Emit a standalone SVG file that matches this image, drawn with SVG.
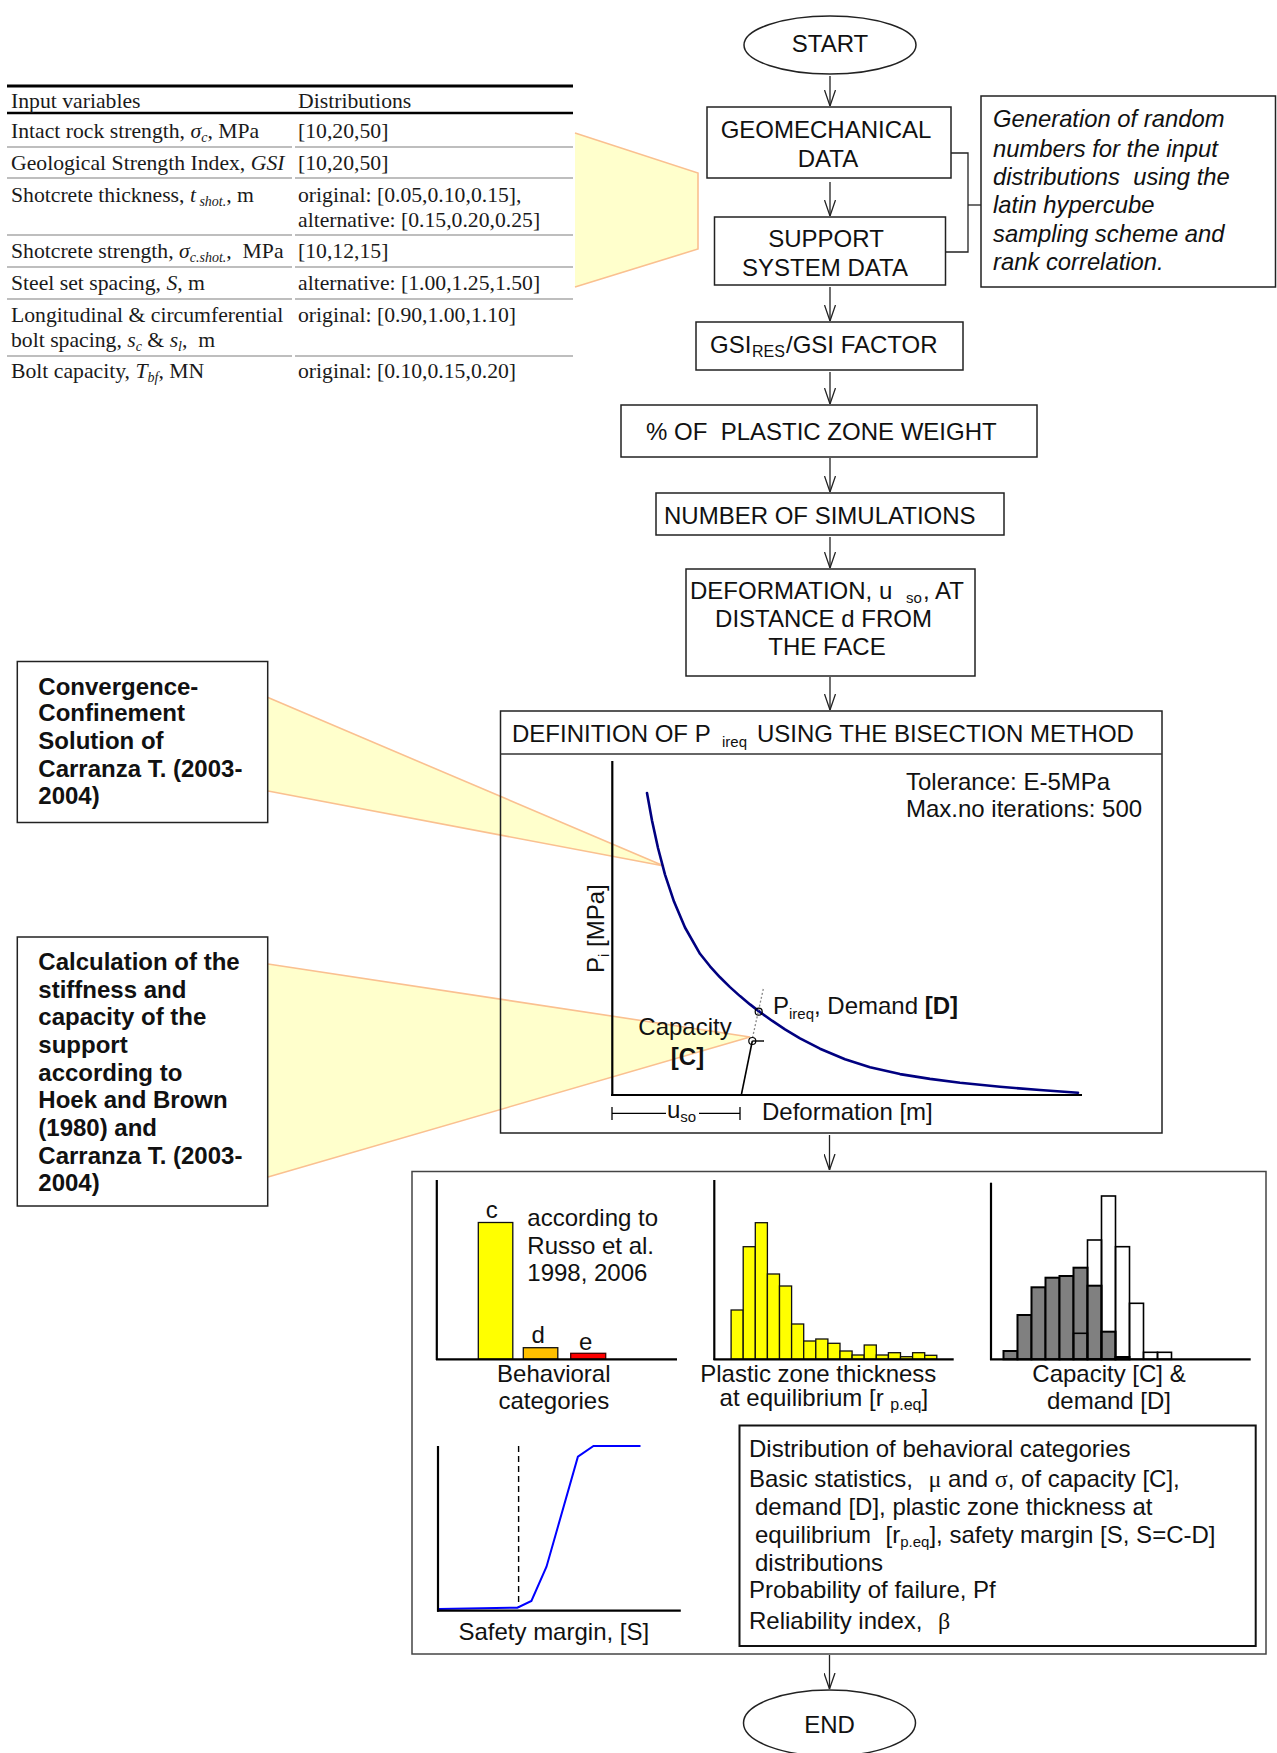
<svg xmlns="http://www.w3.org/2000/svg" width="1277" height="1753" viewBox="0 0 1277 1753">
<defs>
<style>
.t{font-family:"Liberation Sans",Arial,sans-serif;font-size:24px;fill:#111}
.ti{font-family:"Liberation Sans",Arial,sans-serif;font-size:23.8px;font-style:italic;fill:#111}
.tb{font-family:"Liberation Sans",Arial,sans-serif;font-size:24px;font-weight:bold;fill:#111}
.tr{font-family:"Liberation Serif","Times New Roman",serif;font-size:21.7px;fill:#1a1a1a}
.sym{font-family:"Liberation Serif","Times New Roman",serif}
.box{fill:none;stroke:#222;stroke-width:1.5}
.ax{fill:none;stroke:#000;stroke-width:2.2}
.rl{stroke:#a8a8a8;stroke-width:1.5}
.co{fill:#FFFFCC;stroke:none}
.col{fill:none;stroke:#FAC090;stroke-width:1.6}
.yb{fill:#FFFF00;stroke:#111;stroke-width:1.3}
.gb{fill:#808080;stroke:#000;stroke-width:2}
.wb{fill:none;stroke:#000;stroke-width:1.6}
.con{fill:none;stroke:#222;stroke-width:1.3}
</style>
<marker id="ah" viewBox="0 0 16 12" refX="16" refY="6" markerWidth="16" markerHeight="12" markerUnits="userSpaceOnUse" orient="auto">
<path d="M0,0.5 L16,6 L0,11.5" fill="none" stroke="#222" stroke-width="1.3"/>
</marker>
</defs>
<rect width="1277" height="1753" fill="#fff"/>

<g id="callouts">
<polygon class="co" points="575,133 698,173 698,249 575,287"/>
<polyline class="col" points="575,133 698,173 698,249 575,287"/>
<polygon class="co" points="268,697.5 664,866 268,791"/>
<polyline class="col" points="268,697.5 664,866 268,791"/>
<polygon class="co" points="268,964 750,1037 268,1177"/>
<polyline class="col" points="268,964 750,1037 268,1177"/>
</g>

<g id="table">
<line x1="7" y1="86" x2="573" y2="86" stroke="#000" stroke-width="3"/>
<line x1="7" y1="113" x2="573" y2="113" stroke="#000" stroke-width="2.6"/>
<g>
<line class="rl" x1="7" y1="147" x2="292" y2="147"/><line class="rl" x1="295" y1="147" x2="573" y2="147"/>
<line class="rl" x1="7" y1="178" x2="292" y2="178"/><line class="rl" x1="295" y1="178" x2="573" y2="178"/>
<line class="rl" x1="7" y1="235" x2="292" y2="235"/><line class="rl" x1="295" y1="235" x2="573" y2="235"/>
<line class="rl" x1="7" y1="267" x2="292" y2="267"/><line class="rl" x1="295" y1="267" x2="573" y2="267"/>
<line class="rl" x1="7" y1="299" x2="292" y2="299"/><line class="rl" x1="295" y1="299" x2="573" y2="299"/>
<line class="rl" x1="7" y1="356" x2="292" y2="356"/><line class="rl" x1="295" y1="356" x2="573" y2="356"/>
</g>
<text class="tr" x="11" y="108">Input variables</text>
<text class="tr" x="298" y="108">Distributions</text>
<text class="tr" x="11" y="138">Intact rock strength, <tspan font-style="italic">σ</tspan><tspan font-style="italic" font-size="14" dy="4">c</tspan><tspan dy="-4">, MPa</tspan></text>
<text class="tr" x="298" y="138">[10,20,50]</text>
<text class="tr" x="11" y="170">Geological Strength Index, <tspan font-style="italic">GSI</tspan></text>
<text class="tr" x="298" y="170">[10,20,50]</text>
<text class="tr" x="11" y="202">Shotcrete thickness, <tspan font-style="italic">t</tspan><tspan font-style="italic" font-size="14" dy="4"> shot.</tspan><tspan dy="-4">, m</tspan></text>
<text class="tr" x="298" y="202">original: [0.05,0.10,0.15],</text>
<text class="tr" x="298" y="227">alternative: [0.15,0.20,0.25]</text>
<text class="tr" x="11" y="258" xml:space="preserve">Shotcrete strength, <tspan font-style="italic">σ</tspan><tspan font-style="italic" font-size="14" dy="4">c.shot.</tspan><tspan dy="-4">,  MPa</tspan></text>
<text class="tr" x="298" y="258">[10,12,15]</text>
<text class="tr" x="11" y="290">Steel set spacing, <tspan font-style="italic">S</tspan>, m</text>
<text class="tr" x="298" y="290">alternative: [1.00,1.25,1.50]</text>
<text class="tr" x="11" y="322">Longitudinal &amp; circumferential</text>
<text class="tr" x="11" y="347" xml:space="preserve">bolt spacing, <tspan font-style="italic">s</tspan><tspan font-style="italic" font-size="14" dy="4">c</tspan><tspan dy="-4"> &amp; </tspan><tspan font-style="italic">s</tspan><tspan font-style="italic" font-size="14" dy="4">l</tspan><tspan dy="-4">,  m</tspan></text>
<text class="tr" x="298" y="322">original: [0.90,1.00,1.10]</text>
<text class="tr" x="11" y="378">Bolt capacity, <tspan font-style="italic">T</tspan><tspan font-style="italic" font-size="14" dy="4">bf</tspan><tspan dy="-4">, MN</tspan></text>
<text class="tr" x="298" y="378">original: [0.10,0.15,0.20]</text>
</g>

<g id="connectors">
<line class="con" x1="830" y1="76" x2="830" y2="106" marker-end="url(#ah)"/>
<line class="con" x1="830" y1="182" x2="830" y2="216" marker-end="url(#ah)"/>
<line class="con" x1="830" y1="287" x2="830" y2="321" marker-end="url(#ah)"/>
<line class="con" x1="830" y1="372" x2="830" y2="404" marker-end="url(#ah)"/>
<line class="con" x1="830" y1="458" x2="830" y2="492" marker-end="url(#ah)"/>
<line class="con" x1="830" y1="537" x2="830" y2="568" marker-end="url(#ah)"/>
<line class="con" x1="830" y1="677" x2="830" y2="710" marker-end="url(#ah)"/>
<line class="con" x1="829.5" y1="1135" x2="829.5" y2="1170" marker-end="url(#ah)"/>
<line class="con" x1="829.5" y1="1655" x2="829.5" y2="1689" marker-end="url(#ah)"/>
<polyline class="con" points="951,153 968,153 968,252 945.5,252"/>
<line class="con" x1="968" y1="205" x2="981" y2="205"/>
</g>

<g id="start">
<ellipse cx="830" cy="45" rx="86" ry="29" class="box"/>
<text class="t" x="830" y="51.5" text-anchor="middle">START</text>
</g>
<g id="geomech">
<rect x="707" y="107" width="244" height="71" class="box"/>
<text class="t" x="826" y="138" text-anchor="middle">GEOMECHANICAL</text>
<text class="t" x="828" y="167" text-anchor="middle">DATA</text>
</g>
<g id="support">
<rect x="714.5" y="217" width="231" height="68" class="box"/>
<text class="t" x="826" y="247" text-anchor="middle">SUPPORT</text>
<text class="t" x="825" y="276" text-anchor="middle">SYSTEM DATA</text>
</g>
<g id="note">
<rect x="981" y="96" width="294.5" height="191" class="box"/>
<text class="ti" x="993" y="127">Generation of random</text>
<text class="ti" x="993" y="157">numbers for the input</text>
<text class="ti" x="993" y="185" xml:space="preserve">distributions  using the</text>
<text class="ti" x="993" y="213">latin hypercube</text>
<text class="ti" x="993" y="242">sampling scheme and</text>
<text class="ti" x="993" y="270">rank correlation.</text>
</g>
<g id="gsi">
<rect x="696" y="322" width="267" height="48" class="box"/>
<text class="t" x="710" y="353">GSI<tspan x="752" dy="4" font-size="16">RES</tspan><tspan x="786" dy="-4">/GSI FACTOR</tspan></text>
</g>
<g id="plastic">
<rect x="621" y="405" width="416" height="52" class="box"/>
<text class="t" x="646" y="440" xml:space="preserve">% OF  PLASTIC ZONE WEIGHT</text>
</g>
<g id="nsim">
<rect x="656" y="493" width="348" height="42" class="box"/>
<text class="t" x="664" y="524">NUMBER OF SIMULATIONS</text>
</g>
<g id="deform">
<rect x="686" y="569" width="289" height="107" class="box"/>
<text class="t" x="690" y="599">DEFORMATION, u<tspan x="906" dy="4" font-size="15">so</tspan><tspan x="923" dy="-4">, AT</tspan></text>
<text class="t" x="823.5" y="627" text-anchor="middle">DISTANCE d FROM</text>
<text class="t" x="827" y="655" text-anchor="middle">THE FACE</text>
</g>

<g id="bisection">
<rect x="500.5" y="711" width="661.5" height="422" class="box"/>
<line x1="500.5" y1="754" x2="1162" y2="754" stroke="#333" stroke-width="1.5"/>
<text class="t" x="512" y="742">DEFINITION OF P<tspan x="722" dy="5" font-size="15">ireq</tspan><tspan x="757" dy="-5">USING THE BISECTION METHOD</tspan></text>
<text class="t" x="906" y="790">Tolerance: E-5MPa</text>
<text class="t" x="906" y="817">Max.no iterations: 500</text>
<line class="ax" x1="612.3" y1="761" x2="612.3" y2="1096"/>
<line class="ax" x1="611" y1="1095" x2="1082" y2="1095"/>
<text class="t" transform="translate(604,973) rotate(-90)">P<tspan dy="5" font-size="15">i</tspan><tspan dy="-5"> [MPa]</tspan></text>
<polyline points="647,793 652,820.5 658,848 665,874.6 674,901.6 685,927.5 700,953.8 710,966.3 720,977.3 730,987.1 740,996.1 750,1004.4 760,1012.1 772,1020.7 785,1029.3 800,1038.3 820,1048.7 845,1059.2 870,1067.2 900,1074.1 930,1078.9 960,1082.8 1000,1086.8 1040,1090 1078,1092.7" fill="none" stroke="#000080" stroke-width="2.6" stroke-linejoin="round" stroke-linecap="round"/>
<line x1="763.3" y1="989" x2="752" y2="1040" stroke="#888" stroke-width="1.3" stroke-dasharray="2,2"/>
<line x1="741.3" y1="1095" x2="752.3" y2="1041" stroke="#000" stroke-width="1.6"/>
<line x1="752.3" y1="1041" x2="764" y2="1041" stroke="#000" stroke-width="1.4"/>
<circle cx="758.7" cy="1011.7" r="3.5" fill="none" stroke="#000" stroke-width="1.2"/>
<circle cx="752.3" cy="1041" r="3.5" fill="none" stroke="#000" stroke-width="1.2"/>
<text class="t" x="773" y="1014">P<tspan x="789" dy="5" font-size="15">ireq</tspan><tspan dy="-5">, Demand </tspan><tspan font-weight="bold">[D]</tspan></text>
<text class="t" x="685" y="1035" text-anchor="middle">Capacity</text>
<text class="t" x="687.5" y="1065" text-anchor="middle" font-weight="bold">[C]</text>
<line x1="612" y1="1113.3" x2="666" y2="1113.3" stroke="#000" stroke-width="1.3"/>
<line x1="699" y1="1113.3" x2="740" y2="1113.3" stroke="#000" stroke-width="1.3"/>
<line x1="612" y1="1107" x2="612" y2="1120" stroke="#000" stroke-width="1.3"/>
<line x1="740" y1="1107" x2="740" y2="1120" stroke="#000" stroke-width="1.3"/>
<text class="t" x="667" y="1118">u<tspan dy="4" font-size="15">so</tspan></text>
<text class="t" x="762" y="1120">Deformation [m]</text>
</g>

<g id="ccs">
<rect x="17.3" y="661.5" width="250.4" height="161" class="box"/>
<text class="tb" x="38.3" y="694.6">Convergence-</text>
<text class="tb" x="38.3" y="721.4">Confinement</text>
<text class="tb" x="38.3" y="749">Solution of</text>
<text class="tb" x="38.3" y="776.8">Carranza T. (2003-</text>
<text class="tb" x="38.3" y="804">2004)</text>
</g>
<g id="calc">
<rect x="17.3" y="937" width="250.4" height="269" class="box"/>
<text class="tb" x="38.3" y="969.6">Calculation of the</text>
<text class="tb" x="38.3" y="997.5">stiffness and</text>
<text class="tb" x="38.3" y="1025.3">capacity of the</text>
<text class="tb" x="38.3" y="1053">support</text>
<text class="tb" x="38.3" y="1080.6">according to</text>
<text class="tb" x="38.3" y="1108.3">Hoek and Brown</text>
<text class="tb" x="38.3" y="1136">(1980) and</text>
<text class="tb" x="38.3" y="1163.6">Carranza T. (2003-</text>
<text class="tb" x="38.3" y="1191.3">2004)</text>
</g>

<g id="results">
<rect x="412" y="1171.5" width="854" height="482.5" fill="none" stroke="#444" stroke-width="1.5"/>
<g id="chart-behavioral">
<rect x="478.3" y="1222.5" width="34.5" height="136.8" class="yb"/>
<rect x="523.3" y="1347.7" width="34.5" height="11.6" fill="#FFC000" stroke="#111" stroke-width="1.3"/>
<rect x="570.7" y="1353.3" width="35" height="6" fill="#FF0000" stroke="#400" stroke-width="1.3"/>
<line class="ax" x1="436.8" y1="1180" x2="436.8" y2="1360"/>
<line class="ax" x1="436" y1="1359.3" x2="677" y2="1359.3"/>
<text class="t" x="491.7" y="1218.3" text-anchor="middle" font-size="27">c</text>
<text class="t" x="538.3" y="1343.3" text-anchor="middle" font-size="27">d</text>
<text class="t" x="585.7" y="1350" text-anchor="middle" font-size="27">e</text>
<text class="t" x="527.3" y="1226">according to</text>
<text class="t" x="527.3" y="1253.5">Russo et al.</text>
<text class="t" x="527.3" y="1281">1998, 2006</text>
<text class="t" x="553.8" y="1381.7" text-anchor="middle">Behavioral</text>
<text class="t" x="553.8" y="1409.3" text-anchor="middle">categories</text>
</g>
<g id="chart-plastic">
<rect class="yb" x="731.1" y="1310" width="12.1" height="49.3"/>
<rect class="yb" x="743.2" y="1246.7" width="12.1" height="112.6"/>
<rect class="yb" x="755.3" y="1222.7" width="12.1" height="136.6"/>
<rect class="yb" x="767.4" y="1274" width="12.1" height="85.3"/>
<rect class="yb" x="779.5" y="1286" width="12.1" height="73.3"/>
<rect class="yb" x="791.6" y="1324" width="12.1" height="35.3"/>
<rect class="yb" x="803.7" y="1341" width="12.1" height="18.3"/>
<rect class="yb" x="815.8" y="1339" width="12.1" height="20.3"/>
<rect class="yb" x="827.9" y="1343.3" width="12.1" height="16"/>
<rect class="yb" x="840" y="1351" width="12.1" height="8.3"/>
<rect class="yb" x="852.1" y="1355" width="12.1" height="4.3"/>
<rect class="yb" x="864.2" y="1345" width="12.1" height="14.3"/>
<rect class="yb" x="876.3" y="1355" width="12.1" height="4.3"/>
<rect class="yb" x="888.4" y="1352.7" width="12.1" height="6.6"/>
<rect class="yb" x="900.5" y="1356.7" width="12.1" height="2.6"/>
<rect class="yb" x="912.6" y="1352.7" width="12.1" height="6.6"/>
<rect class="yb" x="924.7" y="1355.3" width="12.1" height="4"/>
<line class="ax" x1="714.3" y1="1180" x2="714.3" y2="1360"/>
<line class="ax" x1="713.5" y1="1359.3" x2="953.7" y2="1359.3"/>
<text class="t" x="818.3" y="1381.7" text-anchor="middle">Plastic zone thickness</text>
<text class="t" x="719.6" y="1406" xml:space="preserve">at equilibrium [r <tspan dy="4" font-size="16">p.eq</tspan><tspan dy="-4">]</tspan></text>
</g>
<g id="chart-capdem">
<rect class="gb" x="1003.5" y="1351" width="14" height="8.3"/>
<rect class="gb" x="1017.5" y="1315" width="14" height="44.3"/>
<rect class="gb" x="1031.5" y="1287.3" width="14" height="72"/>
<rect class="gb" x="1045.5" y="1277.7" width="14" height="81.6"/>
<rect class="gb" x="1059.5" y="1276" width="14" height="83.3"/>
<rect class="gb" x="1073.5" y="1267.7" width="14" height="91.6"/>
<rect class="gb" x="1087.5" y="1285.7" width="14" height="73.6"/>
<rect class="gb" x="1101.5" y="1331.7" width="14" height="27.6"/>
<rect class="gb" x="1115.5" y="1357" width="14" height="2.3"/>
<rect class="wb" x="1073.5" y="1333.3" width="14" height="26"/>
<rect class="wb" x="1087.5" y="1240" width="14" height="119.3"/>
<rect class="wb" x="1101.5" y="1196" width="14" height="163.3"/>
<rect class="wb" x="1115.5" y="1246.7" width="14" height="112.6"/>
<rect class="wb" x="1129.5" y="1303.3" width="14" height="56"/>
<rect class="wb" x="1143.5" y="1352.3" width="14" height="7"/>
<rect class="wb" x="1157.5" y="1352.3" width="14" height="7"/>
<line class="ax" x1="991" y1="1182.7" x2="991" y2="1360"/>
<line class="ax" x1="990" y1="1359.3" x2="1250.7" y2="1359.3"/>
<text class="t" x="1109" y="1381.7" text-anchor="middle">Capacity [C] &amp;</text>
<text class="t" x="1109" y="1409.3" text-anchor="middle">demand [D]</text>
</g>
<g id="chart-safety">
<line x1="518.6" y1="1446" x2="518.6" y2="1608" stroke="#000" stroke-width="1.4" stroke-dasharray="6,4"/>
<polyline points="439,1609 517.4,1607.7 531.4,1601 546.5,1566.7 577.9,1456.7 593.5,1446 640.5,1446" fill="none" stroke="#0000FF" stroke-width="2"/>
<line class="ax" x1="438" y1="1446" x2="438" y2="1611.7"/>
<line class="ax" x1="437" y1="1610.7" x2="680.8" y2="1610.7"/>
<text class="t" x="553.8" y="1640" text-anchor="middle">Safety margin, [S]</text>
</g>
<g id="summary">
<rect x="739.5" y="1425.5" width="516.2" height="220.5" fill="none" stroke="#111" stroke-width="2"/>
<text class="t" x="749" y="1456.7">Distribution of behavioral categories</text>
<text class="t" x="749" y="1486.7">Basic statistics,</text>
<text class="t" x="928.5" y="1486.7"><tspan class="sym">μ</tspan> and <tspan class="sym">σ</tspan>, of capacity [C],</text>
<text class="t" x="755" y="1515">demand [D], plastic zone thickness at</text>
<text class="t" x="755" y="1542.7">equilibrium</text>
<text class="t" x="885.5" y="1542.7">[r<tspan dy="4" font-size="15">p.eq</tspan><tspan dy="-4">], safety margin [S, S=C-D]</tspan></text>
<text class="t" x="755" y="1570.7">distributions</text>
<text class="t" x="749" y="1598.3">Probability of failure, Pf</text>
<text class="t" x="749" y="1629.3">Reliability index,</text>
<text class="t sym" x="938" y="1629.3">β</text>
</g>
</g>

<g id="end">
<ellipse cx="829.5" cy="1723" rx="86" ry="33" class="box"/>
<text class="t" x="829.5" y="1733" text-anchor="middle">END</text>
</g>
</svg>
